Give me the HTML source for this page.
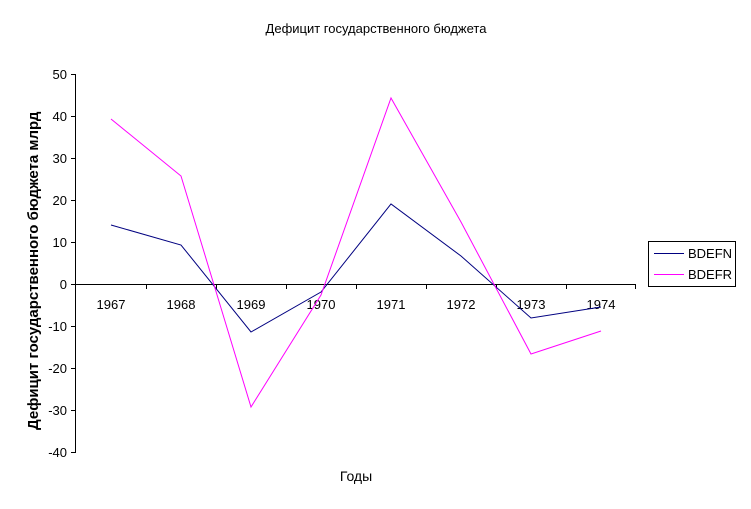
<!DOCTYPE html>
<html><head><meta charset="utf-8"><style>
body{margin:0;background:#fff;}
svg{display:block;font-family:"Liberation Sans","DejaVu Sans",sans-serif;}
</style></head><body>
<svg width="751" height="509" viewBox="0 0 751 509">
<defs><clipPath id="c"><rect x="0" y="95" width="60" height="400"/></clipPath></defs>
<rect width="751" height="509" fill="#fff"/>
<text x="376" y="33" font-size="13" text-anchor="middle">Дефицит государственного бюджета</text>
<line x1="75.5" y1="74" x2="75.5" y2="453" stroke="#000"/>
<g stroke="#000">
<line x1="71" y1="74.5" x2="75" y2="74.5"/><line x1="71" y1="116.5" x2="75" y2="116.5"/>
<line x1="71" y1="158.5" x2="75" y2="158.5"/><line x1="71" y1="200.5" x2="75" y2="200.5"/>
<line x1="71" y1="242.5" x2="75" y2="242.5"/><line x1="71" y1="284.5" x2="75" y2="284.5"/>
<line x1="71" y1="326.5" x2="75" y2="326.5"/><line x1="71" y1="368.5" x2="75" y2="368.5"/>
<line x1="71" y1="410.5" x2="75" y2="410.5"/><line x1="71" y1="452.5" x2="75" y2="452.5"/>
</g>
<g font-size="13" text-anchor="end">
<text x="67" y="79">50</text><text x="67" y="121">40</text><text x="67" y="163">30</text>
<text x="67" y="205">20</text><text x="67" y="247">10</text><text x="67" y="289">0</text>
<text x="67" y="331">-10</text><text x="67" y="373">-20</text><text x="67" y="415">-30</text>
<text x="67" y="457">-40</text>
</g>
<line x1="75" y1="284.5" x2="636" y2="284.5" stroke="#000"/>
<g stroke="#000">
<line x1="146.5" y1="284" x2="146.5" y2="289"/><line x1="216.5" y1="284" x2="216.5" y2="289"/>
<line x1="286.5" y1="284" x2="286.5" y2="289"/><line x1="356.5" y1="284" x2="356.5" y2="289"/>
<line x1="426.5" y1="284" x2="426.5" y2="289"/><line x1="496.5" y1="284" x2="496.5" y2="289"/>
<line x1="566.5" y1="284" x2="566.5" y2="289"/><line x1="635.5" y1="284" x2="635.5" y2="289"/>
</g>
<g font-size="13" text-anchor="middle">
<text x="111" y="309">1967</text><text x="181" y="309">1968</text><text x="251" y="309">1969</text>
<text x="321" y="309">1970</text><text x="391" y="309">1971</text><text x="461" y="309">1972</text>
<text x="531" y="309">1973</text><text x="601" y="309">1974</text>
</g>
<text x="356" y="481" font-size="14" text-anchor="middle">Годы</text>
<g clip-path="url(#c)">
<text transform="translate(38,430) rotate(-90)" font-size="15" font-weight="bold" text-anchor="start">Дефицит государственного бюджета млрд</text>
</g>
<polyline fill="none" stroke="#000080" stroke-width="1" points="111,225 181,245 251,332 321,292 391,204 461,256 531,318 601,307"/>
<polyline fill="none" stroke="#ff00ff" stroke-width="1" points="111,119 181,176 251,407 321,295 391,98 461,222 531,354 601,331"/>
<rect x="648.5" y="241.5" width="87" height="45" fill="#fff" stroke="#000"/>
<line x1="654" y1="253.5" x2="684" y2="253.5" stroke="#000080"/>
<line x1="654" y1="274.5" x2="684" y2="274.5" stroke="#ff00ff"/>
<text x="688" y="258" font-size="13">BDEFN</text>
<text x="688" y="279" font-size="13">BDEFR</text>
</svg>
</body></html>
